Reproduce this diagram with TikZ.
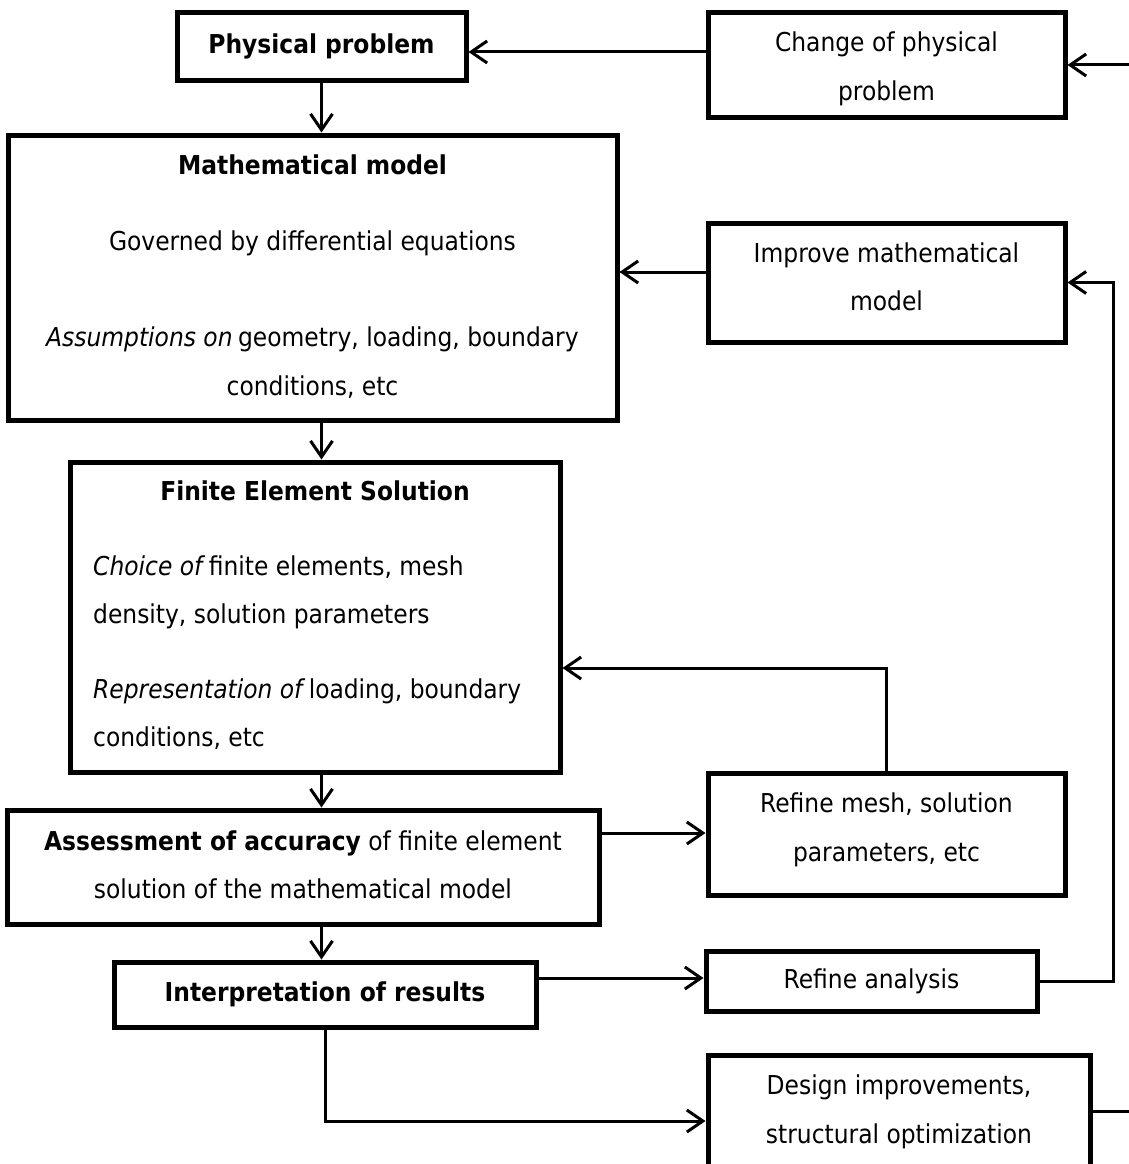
\documentclass[tikz,border=0pt]{standalone}
\usepackage{fontspec}
\setmainfont{DejaVu Sans Condensed}
\usetikzlibrary{arrows.meta}
\newcommand\mainsz{\fontsize{26}{48}\selectfont}
\tikzset{
  box/.style={draw, line width=5pt, rectangle, inner sep=0pt, align=center, font=\mainsz},
  txt/.style={inner sep=0pt, font=\mainsz},
  conn/.style={line width=3pt},
  arr/.style={conn, -{Straight Barb[length=16pt,width=22pt]}},
}
\begin{document}
\begin{tikzpicture}[x=1pt,y=-1pt]
\useasboundingbox (0,0) rectangle (1128,1164);
% boxes
\node[box, minimum width=289, minimum height=67] (phys) at (321.5,46.5) {\textbf{Physical problem}};
\node[box, minimum width=357, minimum height=104] (change) at (886.5,65) {};
\node[box, minimum width=609, minimum height=285] (math) at (312.5,277.5) {};
\node[box, minimum width=357, minimum height=119] (improve) at (886.5,282.5) {};
\node[box, minimum width=490, minimum height=310] (fe) at (315,617) {};
\node[box, minimum width=357, minimum height=122] (mesh) at (886.5,834) {};
\node[box, minimum width=592, minimum height=114] (assess) at (303,867) {};
\node[box, minimum width=422, minimum height=65] (interp) at (325,994.5) {\textbf{Interpretation of results}};
\node[box, minimum width=331, minimum height=60] (ranalysis) at (871.5,981) {Refine analysis};
\node[box, minimum width=382, minimum height=118] (design) at (899,1114) {};
% texts
\node[txt, anchor=base] (c1) at (886.5,52) {Change of physical};
\node[txt, anchor=base] (c2) at (886.5,100) {problem};
\node[txt, anchor=base] (i1) at (886.5,262) {Improve mathematical};
\node[txt, anchor=base] (i2) at (886.5,310) {model};
\node[txt, anchor=base] (r1) at (886.5,812) {Refine mesh, solution};
\node[txt, anchor=base] (r2) at (886.5,861) {parameters, etc};
\node[txt, anchor=base] (a1) at (303,850) {\textbf{Assessment of accuracy} of finite element};
\node[txt, anchor=base] (a2) at (303,898) {solution of the mathematical model};
\node[txt, anchor=base] (d1) at (899,1094) {Design improvements,};
\node[txt, anchor=base] (d2) at (899,1143) {structural optimization};
\node[txt, anchor=base] (m1) at (312.5,174) {\textbf{Mathematical model}};
\node[txt, anchor=base] (m2) at (312.5,250) {Governed by differential equations};
\node[txt, anchor=base] (m3) at (312.5,346) {\textit{Assumptions on}\kern-2pt{} geometry, loading, boundary};
\node[txt, anchor=base] (m4) at (312.5,395) {conditions, etc};
\node[txt, anchor=base] (f1) at (315,500) {\textbf{Finite Element Solution}};
\node[txt, anchor=base west] (f2) at (93,575) {\textit{Choice of}\kern-4pt{} finite elements, mesh};
\node[txt, anchor=base west] (f3) at (93,623) {density, solution parameters};
\node[txt, anchor=base west] (f4) at (93,698) {\textit{Representation of}\kern-4pt{} loading, boundary};
\node[txt, anchor=base west] (f5) at (93,746) {conditions, etc};
% free ends
\coordinate (inR) at (1140,65);
\coordinate (outR) at (1140,1111);
% connectors
\draw[arr] (inR) -- (change.east);
\draw[arr] (change.west |- 0,52) -- (phys.east |- 0,52);
\draw[arr] (phys.south) -- (phys.south |- math.north);
\draw[arr] (improve.west |- 0,272) -- (math.east |- 0,272);
\draw[arr] (math.south -| phys.south) -- (fe.north -| phys.south);
\draw[arr] (mesh.north) |- (fe.east |- 0,668);
\draw[arr] (fe.south -| phys.south) -- (assess.north -| phys.south);
\draw[arr] (assess.east |- 0,833) -- (mesh.west |- 0,833);
\draw[arr] (assess.south -| phys.south) -- (interp.north -| phys.south);
\draw[arr] (interp.east |- 0,978) -- (ranalysis.west |- 0,978);
\draw[arr] (ranalysis.east) -- (1113,981) |- (improve.east);
\draw[arr] (interp.south) |- (design.west |- 0,1121);
\draw[conn] (design.east |- outR) -- (outR);
\end{tikzpicture}
\end{document}
